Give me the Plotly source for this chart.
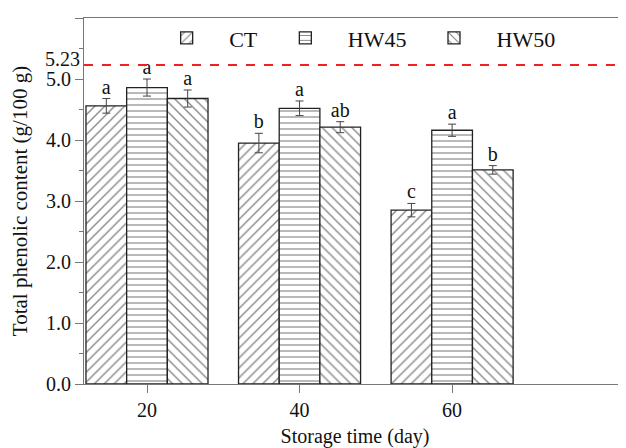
import plotly.graph_objects as go

days = [20, 40, 60]
series_names = ["CT", "HW45", "HW50"]
ct = [4.56, 3.95, 2.85]
hw45 = [4.86, 4.52, 4.16]
hw50 = [4.68, 4.21, 3.51]
ct_err = [0.12, 0.16, 0.11]
hw45_err = [0.14, 0.12, 0.10]
hw50_err = [0.14, 0.09, 0.07]
ct_lbl = ["a", "b", "c"]
hw45_lbl = ["a", "a", "a"]
hw50_lbl = ["a", "ab", "b"]
ref_value = 5.23
y_ticks = [0, 1, 2, 3, 4, 5, 6]

values = [ct, hw45, hw50]
errs = [ct_err, hw45_err, hw50_err]
lbls = [ct_lbl, hw45_lbl, hw50_lbl]
shapes = ["/", "-", "\\"]
sizes = [7, 6, 7]

FONT = "Liberation Serif, Times New Roman, serif"
fig = go.Figure()
for i, name in enumerate(series_names):
    fig.add_trace(go.Bar(
        x=days, y=values[i], name=name,
        marker=dict(color="white", line=dict(color="#222", width=1.3),
                    pattern=dict(shape=shapes[i], size=sizes[i], solidity=0.2,
                                 fgcolor="#111", bgcolor="white")),
        error_y=dict(type="data", array=errs[i], color="#444", thickness=1, width=4),
    ))

gw = 20 * 0.8 / 3
for i in range(3):
    fig.add_trace(go.Scatter(
        x=[d + (i - 1) * gw for d in days],
        y=[v + e for v, e in zip(values[i], errs[i])],
        mode="text", text=lbls[i], textposition="top center",
        textfont=dict(family=FONT, size=20, color="#111"),
        showlegend=False, hoverinfo="skip"))

fig.add_hline(y=ref_value, line=dict(color="#ee2222", width=2, dash="dash"))
fig.add_annotation(x=0, xref="paper", y=ref_value, yref="y", text=f"{ref_value:.2f}",
                   showarrow=False, xanchor="right", xshift=-2, yshift=6,
                   font=dict(family=FONT, size=20, color="#111"))

fig.update_layout(
    width=618, height=440,
    margin=dict(l=76, r=0, t=10, b=64),
    paper_bgcolor="white", plot_bgcolor="white",
    barmode="group", bargap=0.2, bargroupgap=0,
    font=dict(family=FONT, size=20, color="#111"),
    legend=dict(orientation="h", x=0.111, xanchor="left", y=0.945, yanchor="middle",
                font=dict(family=FONT, size=22), itemwidth=75, bgcolor="rgba(0,0,0,0)"),
    showlegend=True,
)
fig.update_xaxes(
    range=[11.74, 82.8], tickvals=days, ticktext=[str(d) for d in days],
    showline=True, linecolor="#777", linewidth=1.2, mirror=True, automargin=False,
    ticks="outside", ticklen=8, tickcolor="#777", showgrid=False, zeroline=False,
    title=dict(text="Storage time (day)", standoff=8, font=dict(size=20)),
    tickfont=dict(size=20),
)
fig.update_yaxes(
    range=[0, 6], tickvals=y_ticks,
    ticktext=["0.0", "1.0", "2.0", "3.0", "4.0", "5.0", "6.0"],
    showline=True, linecolor="#777", linewidth=1.2, automargin=False,
    ticks="outside", ticklen=8, tickcolor="#777", showgrid=False, zeroline=False,
    minor=dict(dtick=0.5, ticks="outside", ticklen=4, tickcolor="#777"),
    title=dict(text="Total phenolic content (g/100 g)", standoff=12, font=dict(size=21)),
    tickfont=dict(size=20),
)
fig.write_html("out.html")
